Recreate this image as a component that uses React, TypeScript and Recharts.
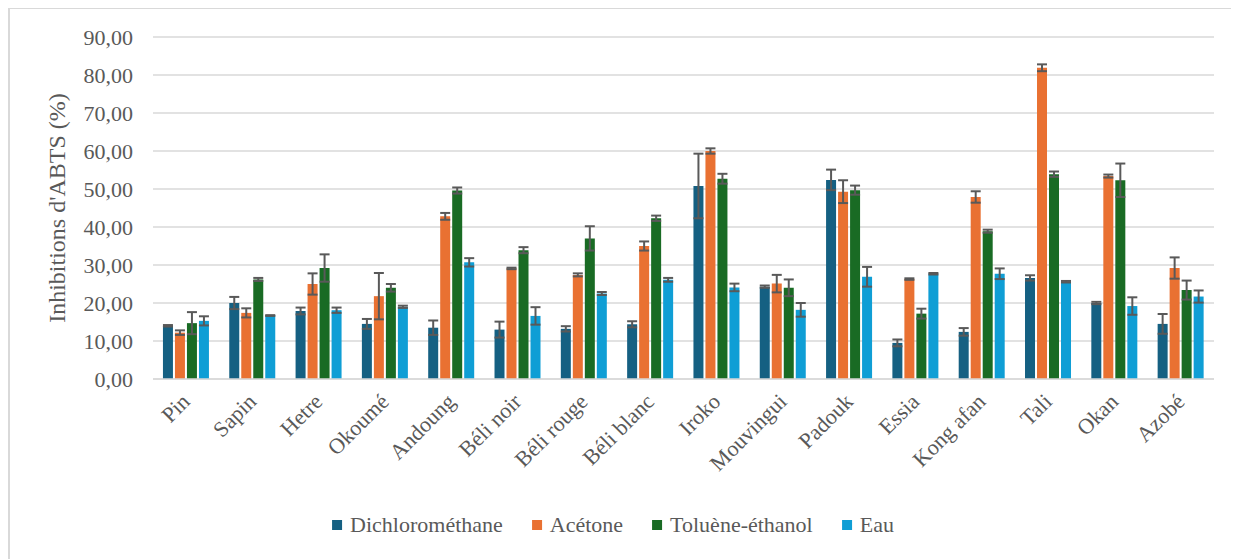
import { BarChart, Bar, XAxis, YAxis, CartesianGrid, ErrorBar } from "recharts";

const categories = [
  "Pin", "Sapin", "Hetre", "Okoumé", "Andoung", "Béli noir", "Béli rouge", "Béli blanc",
  "Iroko", "Mouvingui", "Padouk", "Essia", "Kong afan", "Tali", "Okan", "Azobé",
];

const dichloro = [14.0, 20.0, 17.9, 14.5, 13.5, 13.0, 13.2, 14.4, 50.8, 24.3, 52.4, 9.5, 12.4, 26.6, 20.0, 14.5];
const dichloroErr = [0.2, 1.6, 0.9, 1.3, 1.9, 2.1, 0.7, 0.8, 8.5, 0.3, 2.7, 0.9, 1.0, 0.7, 0.3, 2.6];
const acetone = [12.2, 17.4, 25.0, 21.8, 42.8, 29.1, 27.4, 35.0, 60.0, 25.1, 49.3, 26.3, 47.9, 81.9, 53.4, 29.2];
const acetoneErr = [0.6, 1.2, 2.8, 6.1, 0.9, 0.2, 0.4, 1.2, 0.7, 2.3, 3.0, 0.2, 1.5, 0.9, 0.4, 2.8];
const toluene = [14.7, 26.2, 29.2, 24.0, 49.6, 33.9, 37.0, 42.3, 52.7, 24.0, 49.7, 17.2, 38.9, 53.9, 52.3, 23.4];
const tolueneErr = [2.9, 0.4, 3.6, 1.0, 0.8, 0.8, 3.2, 0.7, 1.3, 2.2, 1.2, 1.3, 0.4, 0.7, 4.4, 2.5];
const eau = [15.3, 16.7, 18.1, 19.0, 30.7, 16.6, 22.5, 26.1, 24.1, 18.2, 26.9, 27.7, 27.7, 25.6, 19.2, 21.7];
const eauErr = [1.2, 0.1, 0.7, 0.3, 1.1, 2.3, 0.4, 0.5, 1.0, 1.8, 2.6, 0.2, 1.4, 0.2, 2.3, 1.6];

const yTicks = [0, 10, 20, 30, 40, 50, 60, 70, 80, 90];

const series = [
  { key: "dcm", name: "Dichlorométhane", color: "#156082" },
  { key: "ace", name: "Acétone", color: "#E97132" },
  { key: "tol", name: "Toluène-éthanol", color: "#196B24" },
  { key: "eau", name: "Eau", color: "#0F9ED5" },
];

const data = categories.map((c, i) => ({
  bois: c,
  dcm: dichloro[i],
  dcmErr: dichloroErr[i],
  ace: acetone[i],
  aceErr: acetoneErr[i],
  tol: toluene[i],
  tolErr: tolueneErr[i],
  eau: eau[i],
  eauErr: eauErr[i],
}));

const FONT = "'Liberation Serif', 'Times New Roman', serif";
const GREY = "#595959";

function CatTick({ x, y, payload }: any) {
  const ax = x + 5;
  const ay = y + 24;
  return (
    <text
      x={ax}
      y={ay}
      transform={`rotate(-45, ${ax}, ${ay})`}
      textAnchor="end"
      fill={GREY}
      fontSize={22}
      style={{ fontFamily: FONT }}
    >
      {payload.value}
    </text>
  );
}

function ValTick({ x, y, payload }: any) {
  return (
    <text
      x={x}
      y={y}
      textAnchor="end"
      dominantBaseline="central"
      fill={GREY}
      fontSize={22}
      style={{ fontFamily: FONT }}
    >
      {payload.value.toFixed(2).replace(".", ",")}
    </text>
  );
}

function YTitle({ viewBox }: any) {
  const cx = viewBox.x + 47;
  const cy = viewBox.y + viewBox.height / 2;
  return (
    <text
      x={cx}
      y={cy}
      transform={`rotate(-90, ${cx}, ${cy})`}
      textAnchor="middle"
      dominantBaseline="central"
      fill={GREY}
      fontSize={24}
      style={{ fontFamily: FONT }}
    >
      Inhibitions d'ABTS (%)
    </text>
  );
}

export default function App() {
  return (
    <div
      style={{
        position: "relative",
        width: 1231,
        height: 552,
        marginTop: -1,
        borderTop: "2px solid #d9d9d9",
        borderLeft: "2px solid #d9d9d9",
        boxSizing: "border-box",
      }}
    >
      <BarChart
        width={1229}
        height={550}
        data={data}
        margin={{ top: 28, right: 25, bottom: 0, left: 0 }}
        barCategoryGap="15%"
        barGap={2}
      >
        <CartesianGrid vertical={false} stroke="#d9d9d9" strokeWidth={1.5} />
        <XAxis
          dataKey="bois"
          interval={0}
          height={180}
          tickLine={false}
          tickSize={0}
          tickMargin={0}
          axisLine={{ stroke: "#d9d9d9", strokeWidth: 1.5 }}
          tick={<CatTick />}
        />
        <YAxis
          width={143}
          domain={[0, 90]}
          ticks={yTicks}
          axisLine={false}
          tickLine={false}
          tickSize={0}
          tickMargin={20}
          tick={<ValTick />}
          label={<YTitle />}
        />
        {series.map((s) => (
          <Bar key={s.key} dataKey={s.key} name={s.name} fill={s.color} isAnimationActive={false}>
            <ErrorBar
              dataKey={s.key + "Err"}
              direction="y"
              width={5}
              stroke={GREY}
              strokeWidth={2}
              isAnimationActive={false}
            />
          </Bar>
        ))}
      </BarChart>
      <div
        style={{
          position: "absolute",
          top: 501,
          left: 603,
          transform: "translateX(-50%)",
          display: "flex",
          alignItems: "center",
          whiteSpace: "nowrap",
          height: 30,
          fontSize: 22,
          color: GREY,
          fontFamily: FONT,
        }}
      >
        {series.map((s) => (
          <div key={s.key} style={{ display: "flex", alignItems: "center", marginRight: s.key === "eau" ? 0 : 29 }}>
            <span style={{ display: "inline-block", width: 10, height: 10, background: s.color, marginRight: 8 }} />
            <span style={{ fontFamily: FONT }}>{s.name}</span>
          </div>
        ))}
      </div>
    </div>
  );
}
